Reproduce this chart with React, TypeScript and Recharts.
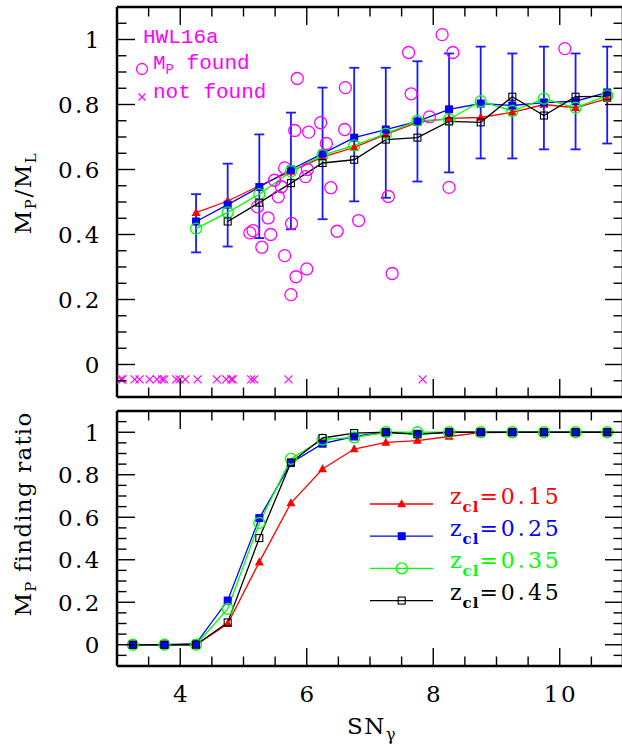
import React from "react";
import { ComposedChart, Line, Scatter, XAxis, YAxis, ErrorBar } from "recharts";

// ---- data ----
const topX = [4.25, 4.75, 5.25, 5.75, 6.25, 6.75, 7.25, 7.75, 8.25, 8.75, 9.25, 9.75, 10.25, 10.75];
const topRed = [0.467, 0.503, 0.55, 0.594, 0.638, 0.668, 0.708, 0.745, 0.757, 0.76, 0.776, 0.8, 0.79, 0.818];
const topBlue = [0.44, 0.492, 0.546, 0.6, 0.649, 0.698, 0.723, 0.748, 0.785, 0.803, 0.797, 0.806, 0.81, 0.837];
const topGreen = [0.418, 0.468, 0.524, 0.594, 0.644, 0.674, 0.71, 0.75, 0.754, 0.81, 0.78, 0.818, 0.79, 0.828];
const topBlack = [null, 0.44, 0.498, 0.558, 0.62, 0.63, 0.692, 0.698, 0.748, 0.745, 0.824, 0.766, 0.824, 0.825];
const errLow = [0.345, 0.363, 0.389, 0.416, 0.447, 0.502, 0.513, 0.563, 0.591, 0.634, 0.634, 0.662, 0.662, 0.68];
const errHigh = [0.524, 0.618, 0.708, 0.775, 0.852, 0.913, 0.913, 0.933, 0.957, 0.978, 0.957, 0.978, 0.957, 0.978];

const foundX = [5.85, 6.61, 5.81, 6.03, 6.22, 6.6, 6.31, 5.65, 6.01, 5.98, 5.49, 5.6, 5.55, 6.38, 5.22, 5.39, 5.76, 5.1, 5.15, 5.43, 5.29, 5.65, 6.0, 5.83, 5.75, 6.48, 6.82, 8.14, 7.61, 8.31, 10.08, 7.65, 7.94, 8.25, 7.29, 7.35];
const foundY = [0.88, 0.852, 0.72, 0.715, 0.744, 0.723, 0.68, 0.605, 0.6, 0.578, 0.567, 0.547, 0.516, 0.544, 0.485, 0.451, 0.434, 0.405, 0.412, 0.4, 0.361, 0.335, 0.294, 0.27, 0.215, 0.41, 0.443, 1.015, 0.96, 0.96, 0.972, 0.833, 0.762, 0.545, 0.517, 0.28];
const notFoundX = [3.063, 3.089, 3.279, 3.357, 3.516, 3.632, 3.711, 3.747, 3.937, 3.989, 4.079, 4.274, 4.579, 4.726, 4.805, 4.832, 5.121, 5.168, 5.711, 7.832];
const notFoundLevel = -0.046;

const botX = [3.25, 3.75, 4.25, 4.75, 5.25, 5.75, 6.25, 6.75, 7.25, 7.75, 8.25, 8.75, 9.25, 9.75, 10.25, 10.75];
const botRed = [0, 0, 0, 0.099, 0.389, 0.667, 0.827, 0.921, 0.952, 0.961, 0.98, 0.998, 1, 1, 1, 1];
const botBlue = [0, 0, 0.005, 0.208, 0.596, 0.855, 0.946, 0.98, 1, 0.993, 1, 1, 1, 1, 1, 1];
const botGreen = [0, 0, 0, 0.169, 0.573, 0.875, 0.965, 0.976, 1, 1, 1, 1, 1, 1, 1, 1];
const botBlack = [0, 0, 0, 0.105, 0.502, 0.858, 0.973, 0.996, 1, 0.99, 1, 1, 1, 1, 1, 1];

const xTicks = [3, 3.5, 4, 4.5, 5, 5.5, 6, 6.5, 7, 7.5, 8, 8.5, 9, 9.5, 10, 10.5, 11];
const xLabels = [4, 6, 8, 10];
const yTicks = [-0.1, -0.05, 0, 0.05, 0.1, 0.15, 0.2, 0.25, 0.3, 0.35, 0.4, 0.45, 0.5, 0.55, 0.6, 0.65, 0.7, 0.75, 0.8, 0.85, 0.9, 0.95, 1, 1.05, 1.1];
const yLabels = [0, 0.2, 0.4, 0.6, 0.8, 1];

const legendItems = [
  { key: "red", label: "0.15", color: "#ff0000" },
  { key: "blue", label: "0.25", color: "#0000ff" },
  { key: "green", label: "0.35", color: "#00ff00" },
  { key: "black", label: "0.45", color: "#000000" },
];

const topRows = topX.map((x, i) => ({
  x,
  red: topRed[i],
  blue: topBlue[i],
  green: topGreen[i],
  black: topBlack[i],
  err: [topBlue[i] - errLow[i], errHigh[i] - topBlue[i]],
}));
const botRows = botX.map((x, i) => ({ x, red: botRed[i], blue: botBlue[i], green: botGreen[i], black: botBlack[i] }));
const foundPts = foundX.map((x, i) => ({ x, y: foundY[i] }));
const notFoundPts = notFoundX.map((x) => ({ x, y: notFoundLevel }));

const MAG = "#ff00ff";
const SERIF = "DejaVu Serif";
const near = (a: number, b: number) => Math.abs(a - b) < 1e-6;
const majorX = (v: number) => near(v / 2, Math.round(v / 2));
const majorY = (v: number) => near(v * 5, Math.round(v * 5));

// ---- markers ----
const Tri = ({ cx, cy, c }: any) => (
  <polygon points={`${cx},${cy - 4.8} ${cx - 4.5},${cy + 3.3} ${cx + 4.5},${cy + 3.3}`} fill={c} />
);
const FSq = ({ cx, cy, c }: any) => <rect x={cx - 4} y={cy - 4} width={8} height={8} fill={c} />;
const OCirc = ({ cx, cy, c }: any) => <circle cx={cx} cy={cy} r={5.5} fill="none" stroke={c} strokeWidth={1.3} />;
const OSq = ({ cx, cy, c }: any) => (
  <rect x={cx - 3.5} y={cy - 3.5} width={7} height={7} fill="none" stroke={c} strokeWidth={1.1} />
);
const markerFor: Record<string, any> = { red: Tri, blue: FSq, green: OCirc, black: OSq };

const dotFn = (key: string, color: string) => (p: any) => {
  const M = markerFor[key];
  if (p.cx == null || p.cy == null || p.value == null) return <g key={`${key}-${p.index}`} />;
  return (
    <g key={`${key}-${p.index}`}>
      <M cx={p.cx} cy={p.cy} c={color} />
    </g>
  );
};

// ---- inward ticks ----
const xTick = (side: "top" | "bottom", labels: boolean) => (p: any) => {
  const v = p.payload.value;
  const len = majorX(v) ? 18 : 9.5;
  const dir = side === "bottom" ? -1 : 1;
  const show = labels && xLabels.some((l) => near(l, v));
  return (
    <g key={`${side}-${v}`}>
      <line x1={p.x} x2={p.x} y1={p.y} y2={p.y + dir * len} stroke="#000" strokeWidth={1.4} />
      {show && (
        <text x={p.x + 1.2} y={p.y + 36} textAnchor="middle" fontFamily={SERIF} fontSize={23} letterSpacing={2.5} fill="#000">
          {String(v)}
        </text>
      )}
    </g>
  );
};

const yTick = (side: "left" | "right", labels: boolean) => (p: any) => {
  const v = p.payload.value;
  const len = majorY(v) ? 18 : 9.5;
  const dir = side === "left" ? 1 : -1;
  const show = labels && yLabels.some((l) => near(l, v));
  return (
    <g key={`${side}-${v}`}>
      <line x1={p.x} x2={p.x + dir * len} y1={p.y} y2={p.y} stroke="#000" strokeWidth={1.4} />
      {show && (
        <text x={p.x - 15} y={p.y + 8.4} textAnchor="end" fontFamily={SERIF} fontSize={23} letterSpacing={2.5} fill="#000">
          {String(Math.round(v * 10) / 10)}
        </text>
      )}
    </g>
  );
};

const frame = { stroke: "#000", strokeWidth: 2.5 };

// axes get a 1px box (a 0px box is not drawn); margins below make up for it
function axesFor(xLabelsOn: boolean) {
  return [
    <XAxis key="xb" dataKey="x" type="number" domain={[3, 11]} ticks={xTicks} interval={0} height={1} tickSize={0} tickMargin={0} tickLine={false} axisLine={frame} allowDataOverflow tick={xTick("bottom", xLabelsOn)} />,
    <XAxis key="xt" xAxisId="top" orientation="top" dataKey="x" type="number" domain={[3, 11]} ticks={xTicks} interval={0} height={1} tickSize={0} tickMargin={0} tickLine={false} axisLine={frame} allowDataOverflow tick={xTick("top", false)} />,
    <YAxis key="yl" type="number" domain={[-0.1, 1.1]} ticks={yTicks} interval={0} width={1} tickSize={0} tickMargin={0} tickLine={false} axisLine={frame} allowDataOverflow tick={yTick("left", true)} />,
    <YAxis key="yr" yAxisId="right" orientation="right" type="number" domain={[-0.1, 1.1]} ticks={yTicks} interval={0} width={1} tickSize={0} tickMargin={0} tickLine={false} axisLine={frame} allowDataOverflow tick={yTick("right", false)} />,
  ];
}

function seriesLines(withErr: boolean) {
  return legendItems.map((s) => (
    <Line
      key={s.key}
      dataKey={s.key}
      type="linear"
      stroke={s.color}
      strokeWidth={1.3}
      dot={dotFn(s.key, s.color)}
      activeDot={false}
      isAnimationActive={false}
      connectNulls={false}
    >
      {withErr && s.key === "blue" && (
        <ErrorBar dataKey="err" direction="y" width={5} stroke="#1a1aff" strokeWidth={1.8} isAnimationActive={false} />
      )}
    </Line>
  ));
}

export default function App() {
  return (
    <div style={{ position: "absolute", left: 0, top: 0, width: 622, height: 750, overflow: "hidden", background: "#fff" }}>
      <div style={{ position: "absolute", left: 0, top: 0 }}>
        <ComposedChart width={630} height={404} data={topRows} margin={{ top: 6, right: 6, bottom: 6, left: 116 }}>
          {axesFor(false)}
          <Scatter
            data={foundPts}
            dataKey="y"
            isAnimationActive={false}
            shape={(p: any) => <circle cx={p.cx} cy={p.cy} r={6} fill="none" stroke={MAG} strokeWidth={1.3} />}
          />
          <Scatter
            data={notFoundPts}
            dataKey="y"
            isAnimationActive={false}
            shape={(p: any) => (
              <g>
                <line x1={p.cx - 4} y1={p.cy - 4} x2={p.cx + 4} y2={p.cy + 4} stroke={MAG} strokeWidth={1.2} />
                <line x1={p.cx - 4} y1={p.cy + 4} x2={p.cx + 4} y2={p.cy - 4} stroke={MAG} strokeWidth={1.2} />
              </g>
            )}
          />
          {seriesLines(true)}
        </ComposedChart>
      </div>
      <div style={{ position: "absolute", left: 0, top: 404 }}>
        <ComposedChart width={630} height={346} data={botRows} margin={{ top: 6, right: 6, bottom: 83, left: 116 }}>
          {axesFor(true)}
          {seriesLines(false)}
        </ComposedChart>
      </div>
      <svg width={622} height={750} style={{ position: "absolute", left: 0, top: 0, pointerEvents: "none" }}>
        {/* axis titles */}
        <text transform="translate(31,193) rotate(-90)" textAnchor="middle" fontFamily={SERIF} fontSize={23} letterSpacing={1.5}>
          M<tspan fontSize={15} dy={5}>P</tspan>
          <tspan dy={-5}>/M</tspan>
          <tspan fontSize={15} dy={5}>L</tspan>
        </text>
        <text transform="translate(31,514) rotate(-90)" textAnchor="middle" fontFamily={SERIF} fontSize={23} letterSpacing={1.2}>
          M<tspan fontSize={15} dy={5}>P</tspan>
          <tspan dy={-5}> finding ratio</tspan>
        </text>
        <text x={347} y={734} fontFamily={SERIF} fontSize={23} letterSpacing={1.5}>
          SN<tspan fontSize={16} dy={6}>γ</tspan>
        </text>
        {/* top legend */}
        <text x={143} y={43} fontFamily="Liberation Mono" fontSize={21} fill={MAG}>HWL16a</text>
        <circle cx={142} cy={69} r={5.5} fill="none" stroke={MAG} strokeWidth={1.3} />
        <text x={153} y={69} fontFamily="Liberation Mono" fontSize={21} fill={MAG}>
          M<tspan fontSize={14} dy={5}>P</tspan>
          <tspan dy={-5}> found</tspan>
        </text>
        <line x1={138.5} y1={93.5} x2={145.5} y2={100.5} stroke={MAG} strokeWidth={1.2} />
        <line x1={138.5} y1={100.5} x2={145.5} y2={93.5} stroke={MAG} strokeWidth={1.2} />
        <text x={153} y={98} fontFamily="Liberation Mono" fontSize={21} fill={MAG}>not found</text>
        {/* bottom legend */}
        {legendItems.map((s, i) => {
          const y = 504 + i * 32.2;
          const M = markerFor[s.key];
          return (
            <g key={s.key}>
              <line x1={370} x2={433} y1={y} y2={y} stroke={s.color} strokeWidth={1.3} />
              <M cx={401.7} cy={y} c={s.color} />
              <text x={450} y={y - 0.5} fontFamily={SERIF} fontSize={22} fill={s.color} letterSpacing={1}>
                z<tspan fontSize={15} fontWeight="bold" dy={8}>cl</tspan>
                <tspan dy={-8} letterSpacing={3}>=0.{s.label.slice(2)}</tspan>
              </text>
            </g>
          );
        })}
      </svg>
    </div>
  );
}
